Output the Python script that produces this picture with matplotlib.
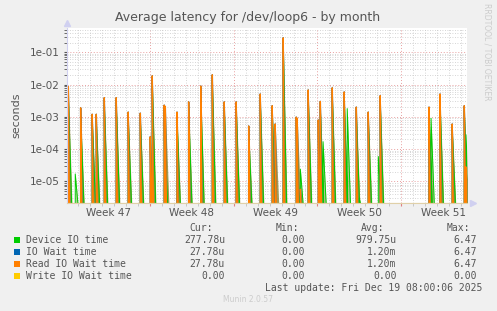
#!/usr/bin/env python3

import matplotlib
matplotlib.use('Agg')
import matplotlib.pyplot as plt
from matplotlib.ticker import FixedLocator, FuncFormatter, NullFormatter

# spike times in days from Mon Nov 17 (start of week 47), values in seconds
read_t = [0.17, 1.20, 2.17, 2.51, 3.18, 4.18, 5.18, 6.19, 7.02, 7.19,
          8.19, 8.28, 9.26, 10.23, 11.24, 12.21, 13.21, 14.21, 15.25, 16.22,
          17.22, 17.47, 18.14, 19.23, 19.31, 19.57, 20.23, 21.07, 21.24, 22.24,
          23.24, 24.25, 25.25, 26.25, 30.33, 31.25, 32.27, 33.28, 33.42]
read_v = [8.7e-3, 1.9e-3, 1.2e-3, 1.2e-3, 3.9e-3, 3.9e-3, 1.4e-3, 1.3e-3, 2.4e-4, 1.86e-2,
          2.3e-3, 2.1e-3, 1.4e-3, 2.9e-3, 9.0e-3, 2.0e-2, 2.9e-3, 2.9e-3, 5.2e-4, 5.1e-3,
          2.2e-3, 6.0e-4, 0.28, 9.8e-4, 9.0e-4, 5.7e-6, 6.8e-3, 8.0e-4, 3.0e-3, 7.9e-3,
          5.9e-3, 2.0e-3, 1.4e-3, 4.5e-3, 2.0e-3, 5.1e-3, 6.0e-4, 2.2e-3, 2.8e-5]

dev_t = [0.17, 0.75, 1.20, 2.17, 2.51, 3.18, 4.18, 5.18, 6.19, 7.19,
         8.19, 9.26, 10.23, 11.24, 12.21, 13.21, 14.21, 15.25, 16.22, 17.22,
         18.14, 19.23, 19.57, 20.23, 21.24, 21.47, 22.24, 23.24, 23.49, 24.25,
         24.50, 25.25, 26.09, 26.25, 30.33, 30.50, 31.25, 32.27, 33.28, 33.42]
dev_v = [5.0e-3, 1.7e-5, 1.2e-3, 8.0e-4, 8.0e-4, 2.5e-3, 2.5e-3, 9.0e-4, 9.0e-4, 1.2e-2,
         1.5e-3, 9.0e-4, 1.9e-3, 6.0e-3, 1.3e-2, 1.9e-3, 1.9e-3, 3.4e-4, 3.4e-3, 1.5e-3,
         0.2, 6.5e-4, 2.4e-5, 4.5e-3, 2.0e-3, 1.7e-4, 5.2e-3, 3.9e-3, 1.8e-3, 1.3e-3,
         3.0e-6, 9.0e-4, 5.9e-5, 3.0e-3, 1.3e-3, 9.0e-4, 3.4e-3, 4.0e-4, 1.5e-3, 2.8e-4]

week_labels = ['Week 47', 'Week 48', 'Week 49', 'Week 50', 'Week 51']
week_mid = [3.5, 10.5, 17.5, 24.5, 31.5]
week_starts = [7, 14, 21, 28]

legend_names = ['Device IO time', 'IO Wait time', 'Read IO Wait time', 'Write IO Wait time']
legend_colors = ['#00cc00', '#0066b3', '#ff8000', '#ffcc00']
cur_vals = ['277.78u', '27.78u', '27.78u', '0.00']
min_vals = ['0.00', '0.00', '0.00', '0.00']
avg_vals = ['979.75u', '1.20m', '1.20m', '0.00']
max_vals = ['6.47', '6.47', '6.47', '0.00']

FLOOR = 1e-6
W, H = 497, 311


def spikes(times, values, w):
    xs, ys = [], []
    for t, v in zip(times, values):
        xs += [t, t, t + w]
        ys += [FLOOR, v, FLOOR]
    return xs, ys


def px(x, y):
    return x / W, 1 - y / H


fig = plt.figure(figsize=(W / 100, H / 100), dpi=100, facecolor='#f0f0f0')
ax = fig.add_axes([67 / W, 1 - 203 / H, (467.3 - 67) / W, (203 - 28) / H])
ax.set_facecolor('white')
ax.set_yscale('log')
ax.set_xlim(0.06, 33.53)
ax.set_ylim(2.14e-6, 0.565)

# grid
ax.xaxis.set_major_locator(FixedLocator(week_starts))
ax.xaxis.set_minor_locator(FixedLocator([d for d in range(1, 34) if d % 7]))
ax.xaxis.set_major_formatter(NullFormatter())
ax.yaxis.set_major_locator(FixedLocator([1e-5, 1e-4, 1e-3, 1e-2, 1e-1]))
ax.yaxis.set_major_formatter(FuncFormatter(lambda v, p: '%.0e' % v))
ax.yaxis.set_minor_locator(FixedLocator([m * 10.0 ** e for e in range(-6, 0) for m in range(2, 10)]))
ax.yaxis.set_minor_formatter(NullFormatter())
ax.grid(which='major', color='#e8a0a0', linestyle=(0, (1, 2)), linewidth=0.7)
ax.grid(which='minor', color='#c8c8c8', linestyle=(0, (1, 2)), linewidth=0.6)
ax.set_axisbelow(True)

# series
gx, gy = spikes(dev_t, dev_v, 0.3)
ax.fill_between(gx, gy, FLOOR, color='#7aa848', alpha=0.6, linewidth=0)
ax.plot(gx, gy, color='#00cc00', linewidth=0.7)
fx, fy = spikes(read_t, read_v, 0.33)
ax.fill_between(fx, fy, FLOOR, color='#8f8a3c', alpha=0.85, linewidth=0)
ox, oy = spikes(read_t, read_v, 0.1)
ax.plot(ox, oy, color='#0066b3', linewidth=1.0)
ax.plot(ox, oy, color='#ff8000', linewidth=1.0)
ax.axhline(2.2e-6, color='#e4d49c', linewidth=0.8)

for s in ['top', 'right']:
    ax.spines[s].set_visible(False)
ax.spines['left'].set_color('#d0d0f0')
ax.spines['bottom'].set_color('#e0d0a8')
ax.plot([0], [1.03], marker='^', color='#d0d0f0', markersize=5, transform=ax.transAxes, clip_on=False)
ax.plot([1.013], [0], marker='>', color='#d0d0f0', markersize=5, transform=ax.transAxes, clip_on=False)

ax.tick_params(axis='y', which='both', length=2, colors='#555555', labelsize=7.5, pad=3)
ax.tick_params(axis='x', which='major', length=2, color='#e08080')
ax.tick_params(axis='x', which='minor', length=2, color='#c0c0c0')
for m, lab in zip(week_mid, week_labels):
    ax.text(m, -0.058, lab, transform=ax.get_xaxis_transform(), ha='center', va='center',
            fontsize=7.5, color='#555555')

ax.set_ylabel('seconds', fontsize=8, color='#555555', labelpad=6)

fig.text(*px(248, 18), 'Average latency for /dev/loop6 - by month', ha='center', va='center',
         fontsize=9, color='#555555')
fig.text(*px(487, 52), 'RRDTOOL / TOBI OETIKER', rotation=270, ha='center', va='center',
         fontsize=5.5, color='#cccccc')

# legend block
mono = 'DejaVu Sans Mono'
fs = 7
fig.text(*px(212.7, 228), 'Cur:', ha='right', va='center', family=mono, fontsize=fs, color='#555555')
fig.text(*px(299, 228), 'Min:', ha='right', va='center', family=mono, fontsize=fs, color='#555555')
fig.text(*px(384, 228), 'Avg:', ha='right', va='center', family=mono, fontsize=fs, color='#555555')
fig.text(*px(470, 228), 'Max:', ha='right', va='center', family=mono, fontsize=fs, color='#555555')
for i, name in enumerate(legend_names):
    y = 240 + i * 12
    fig.patches.append(plt.Rectangle(px(14, y + 3), 6 / W, 6 / H, transform=fig.transFigure,
                                     facecolor=legend_colors[i], edgecolor='none'))
    fig.text(*px(26, y), name, ha='left', va='center', family=mono, fontsize=fs, color='#555555')
    fig.text(*px(225, y), cur_vals[i], ha='right', va='center', family=mono, fontsize=fs, color='#555555')
    fig.text(*px(305, y), min_vals[i], ha='right', va='center', family=mono, fontsize=fs, color='#555555')
    fig.text(*px(396.7, y), avg_vals[i], ha='right', va='center', family=mono, fontsize=fs, color='#555555')
    fig.text(*px(476.7, y), max_vals[i], ha='right', va='center', family=mono, fontsize=fs, color='#555555')

fig.text(*px(482.3, 288), 'Last update: Fri Dec 19 08:00:06 2025', ha='right', va='center',
         family=mono, fontsize=fs, color='#555555')
fig.text(*px(248, 300), 'Munin 2.0.57', ha='center', va='center', fontsize=5.5, color='#cccccc')

fig.savefig('out.png', dpi=100, facecolor=fig.get_facecolor())
